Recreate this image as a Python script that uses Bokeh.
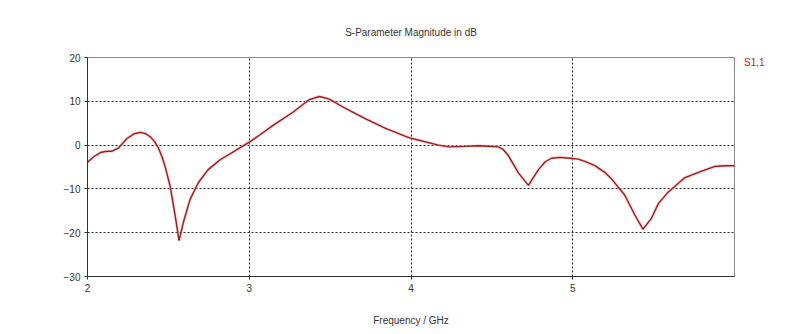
from bokeh.plotting import figure
from bokeh.models import FixedTicker, Range1d, Legend, LegendItem
from bokeh.embed import file_html
from bokeh.resources import INLINE

freq_ghz = [2.0, 2.04, 2.08, 2.12, 2.152, 2.19, 2.244, 2.29, 2.326, 2.36, 2.388, 2.415, 2.439,
            2.46, 2.48, 2.511, 2.542, 2.566, 2.593, 2.634, 2.685, 2.746, 2.818, 2.921, 3.003,
            3.065, 3.147, 3.27, 3.372, 3.434, 3.495, 3.598, 3.72, 3.843, 3.986, 4.05, 4.17,
            4.234, 4.33, 4.418, 4.54, 4.57, 4.60, 4.665, 4.726, 4.76, 4.788, 4.83, 4.868,
            4.92, 4.983, 5.034, 5.075, 5.137, 5.157, 5.2, 5.239, 5.321, 5.383, 5.434, 5.485,
            5.53, 5.588, 5.69, 5.793, 5.875, 5.94, 6.0]
s11_db = [-3.9, -2.6, -1.7, -1.4, -1.4, -0.7, 1.5, 2.6, 2.9, 2.6, 1.9, 0.8, -0.7,
          -2.6, -4.9, -9.4, -16.1, -21.8, -17.6, -12.4, -8.6, -5.6, -3.4, -1.1, 0.75,
          2.3, 4.5, 7.5, 10.4, 11.1, 10.5, 8.3, 6.0, 3.8, 1.7, 1.1, 0.0,
          -0.4, -0.3, -0.15, -0.4, -1.0, -2.3, -6.4, -9.2, -7.2, -5.6, -3.8, -3.0,
          -2.8, -3.0, -3.2, -3.7, -4.7, -5.2, -6.3, -7.7, -11.4, -15.9, -19.2, -16.8,
          -13.3, -10.8, -7.5, -6.0, -4.9, -4.7, -4.7]
x_ticks = [2, 3, 4, 5]
y_ticks = [-30, -20, -10, 0, 10, 20]
title_text = "S-Parameter Magnitude in dB"
x_label = "Frequency / GHz"
series_name = "S1,1"

FONT = "Liberation Sans"
TXT = "#333333"

p = figure(frame_width=647, frame_height=219, output_backend="svg", toolbar_location=None,
           x_range=Range1d(2, 6), y_range=Range1d(-30, 20),
           min_border_left=87, min_border_right=66, min_border_top=57, min_border_bottom=58)
p.title.text = title_text
p.title.align = "center"
p.title.vertical_align = "middle"
p.title.text_font = FONT
p.title.text_font_size = "10px"
p.title.text_font_style = "normal"
p.title.text_color = TXT
p.title.standoff = 37

p.background_fill_color = "white"
p.border_fill_color = "white"
p.outline_line_color = "#888888"
p.outline_line_width = 1

for ax in (p.xaxis[0], p.yaxis[0]):
    ax.axis_line_color = "#333333"
    ax.axis_line_width = 1
    ax.major_tick_line_color = "#333333"
    ax.major_tick_out = 3
    ax.major_tick_in = 0
    ax.minor_tick_line_color = None
    ax.major_label_text_font = FONT
    ax.major_label_text_font_size = "10px"
    ax.major_label_text_color = TXT

p.xaxis.ticker = FixedTicker(ticks=x_ticks)
p.yaxis.ticker = FixedTicker(ticks=y_ticks)
p.xaxis.major_label_standoff = 4
p.yaxis.major_label_standoff = 4
p.xaxis.axis_label = x_label
p.xaxis.axis_label_text_font = FONT
p.xaxis.axis_label_text_font_size = "10px"
p.xaxis.axis_label_text_font_style = "normal"
p.xaxis.axis_label_text_color = TXT
p.xaxis.axis_label_standoff = 20

for g in (p.xgrid[0], p.ygrid[0]):
    g.grid_line_color = "#222222"
    g.grid_line_dash = "2 2"
    g.grid_line_width = 1

p.line(freq_ghz, s11_db, line_color="#f2aaaa", line_width=3.0, line_alpha=0.5)
r = p.line(freq_ghz, s11_db, line_color="#9a1c1c", line_width=1.4)

legend = Legend(items=[LegendItem(label=series_name, renderers=[r])],
                location="top_left", glyph_width=0, glyph_height=10, label_standoff=10,
                border_line_color=None, background_fill_alpha=0,
                label_text_font=FONT, label_text_font_size="10px", label_text_color="#b02828",
                margin=0, padding=6, spacing=0)
p.add_layout(legend, "right")

open("out.html", "w").write(file_html(p, INLINE))
